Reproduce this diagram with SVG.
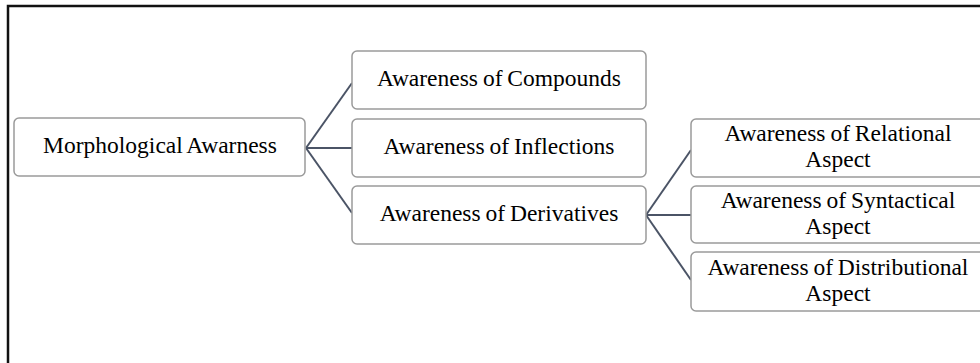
<svg xmlns="http://www.w3.org/2000/svg" width="980" height="363" viewBox="0 0 980 363">
<style>
.frame{fill:none;stroke:#111;stroke-width:2.5}
.box{fill:#fff;stroke:#9a9a9a;stroke-width:1.5}
.lbl{font-family:"Liberation Serif","Times New Roman",serif;font-size:23.5px;fill:#000;text-anchor:middle;word-spacing:-1px}
.conn{fill:none;stroke:#4b5466;stroke-width:2}
</style>
<rect width="980" height="363" fill="#fff"/>
<rect class="frame" x="8" y="6" width="1000" height="400"/>
<g id="connectors">
<line class="conn" x1="306" y1="148" x2="352" y2="83"/>
<line class="conn" x1="306" y1="148" x2="352" y2="148"/>
<line class="conn" x1="306" y1="148" x2="352" y2="213"/>
<line class="conn" x1="646" y1="215" x2="691" y2="150"/>
<line class="conn" x1="646" y1="215" x2="691" y2="215"/>
<line class="conn" x1="646" y1="215" x2="691" y2="280"/>
</g>
<g id="root">
<rect class="box" x="14" y="118" width="291" height="58" rx="5"/>
<text class="lbl" x="160" y="153">Morphological Awarness</text>
</g>
<g id="compounds">
<rect class="box" x="352" y="51" width="294" height="58" rx="5"/>
<text class="lbl" x="499" y="86">Awareness of Compounds</text>
</g>
<g id="inflections">
<rect class="box" x="352" y="119" width="294" height="58" rx="5"/>
<text class="lbl" x="499" y="154">Awareness of Inflections</text>
</g>
<g id="derivatives">
<rect class="box" x="352" y="186" width="294" height="58" rx="5"/>
<text class="lbl" x="499" y="221">Awareness of Derivatives</text>
</g>
<g id="relational">
<rect class="box" x="691" y="119" width="294" height="58" rx="5"/>
<text class="lbl" x="838" y="141">Awareness of Relational</text>
<text class="lbl" x="838" y="167">Aspect</text>
</g>
<g id="syntactical">
<rect class="box" x="691" y="186" width="294" height="57" rx="5"/>
<text class="lbl" x="838" y="208">Awareness of Syntactical</text>
<text class="lbl" x="838" y="234">Aspect</text>
</g>
<g id="distributional">
<rect class="box" x="691" y="252" width="294" height="59" rx="5"/>
<text class="lbl" x="838" y="275">Awareness of Distributional</text>
<text class="lbl" x="838" y="301">Aspect</text>
</g>
</svg>
